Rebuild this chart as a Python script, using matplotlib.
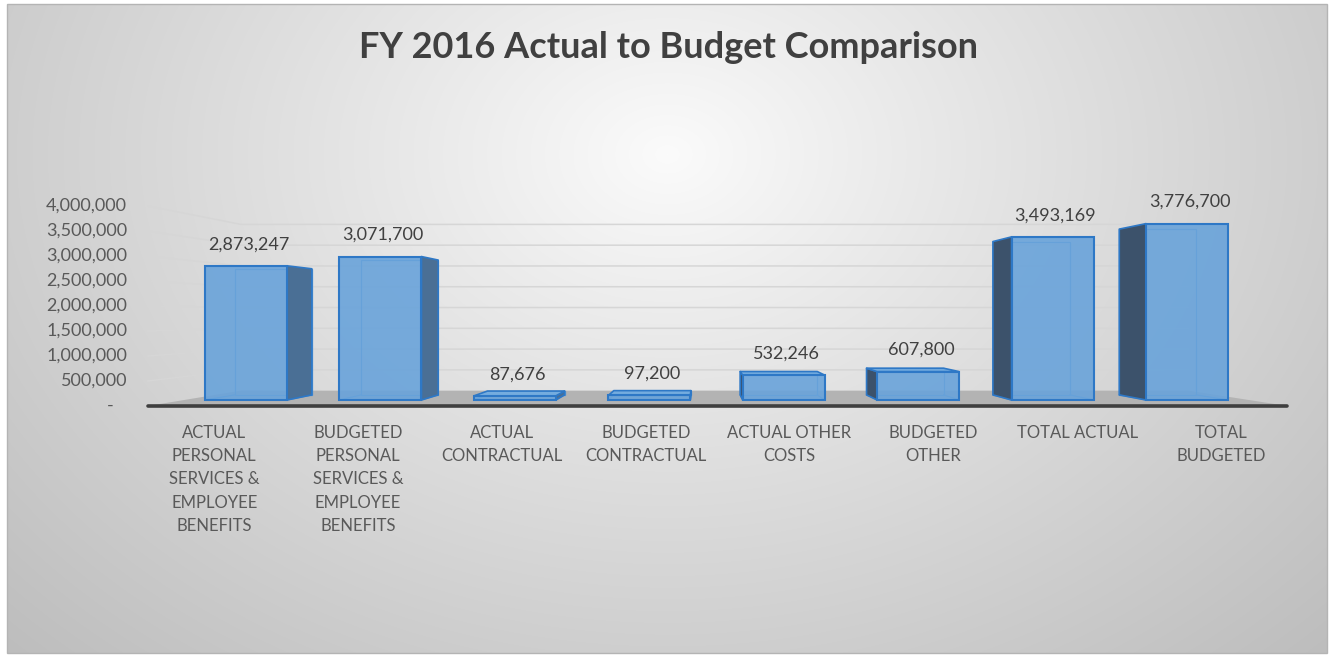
import numpy as np
import matplotlib
matplotlib.use("Agg")
import matplotlib.pyplot as plt
from matplotlib.patches import Polygon, Rectangle

# ---------------- data ----------------
title = "FY 2016 Actual to Budget Comparison"
categories = [
    "ACTUAL\nPERSONAL\nSERVICES &\nEMPLOYEE\nBENEFITS",
    "BUDGETED\nPERSONAL\nSERVICES &\nEMPLOYEE\nBENEFITS",
    "ACTUAL\nCONTRACTUAL",
    "BUDGETED\nCONTRACTUAL",
    "ACTUAL OTHER\nCOSTS",
    "BUDGETED\nOTHER",
    "TOTAL ACTUAL",
    "TOTAL\nBUDGETED",
]
values = [2873247, 3071700, 87676, 97200, 532246, 607800, 3493169, 3776700]
tick_values = [0, 500000, 1000000, 1500000, 2000000, 2500000, 3000000, 3500000, 4000000]
tick_labels = ["-", "500,000", "1,000,000", "1,500,000", "2,000,000",
               "2,500,000", "3,000,000", "3,500,000", "4,000,000"]

# ---------------- layout / style ----------------
W, H = 1331, 657
FONT = "Lato"
X0PIX, DXPIX = 246.0, 134.43      # pixel of first category centre, pixels per category
Y0PIX, DYPIX = 400.0, 46.7        # pixel (from top) of value 0, pixels per million
VPX, VPY = 3.38, 1.82e6           # vanishing point (data units)
S_FF, S_B, S_W = 1.07, 0.94, 0.89  # depth scale: floor front, bar back, back wall
X0W, X1W = -0.46, 7.46             # floor extent (data units)
HW = 0.305                         # half bar width

FRONT = "#69a3da"
EDGE = "#2e78c6"
HIDDEN = "#4f93d6"
SIDE_R = "#4a6f95"
SIDE_L = "#3c526b"
TOP = "#74acdf"
TXT = "#404040"
LBL = "#595959"

fig = plt.figure(figsize=(W / 100, H / 100), dpi=100, facecolor="white")

# background gradient inside frame
fl, ft, fr, fb = 7, 4, 1327, 653
bg = fig.add_axes([fl / W, 1 - fb / H, (fr - fl) / W, (fb - ft) / H])
bg.set_axis_off()
yy, xx = np.mgrid[0:fb - ft, 0:fr - fl]
cx, cy = (fr - fl) / 2, 150
r = np.sqrt(((xx - cx) / cx) ** 2 + ((yy - cy) / (fb - ft - cy)) ** 2) / np.sqrt(2)
val = np.clip(251 - 62 * r ** 0.95, 0, 255) / 255.0
bg.imshow(np.dstack([val, val, val]), aspect="auto", interpolation="bilinear")
fig.add_artist(Rectangle((fl / W, 1 - fb / H), (fr - fl) / W, (fb - ft) / H,
                         transform=fig.transFigure, fill=False,
                         edgecolor="#b4b4b4", lw=1.0))

ax = fig.add_axes([0, 0, 1, 1], facecolor="none")
ax.set_xlim(-X0PIX / DXPIX, (W - X0PIX) / DXPIX)
ax.set_ylim((Y0PIX - H) / DYPIX * 1e6, Y0PIX / DYPIX * 1e6)
ax.set_axis_off()


def P(x, y, s):
    return (VPX + s * (x - VPX), VPY + s * (y - VPY))


# floor
floor = [P(X0W, 0, S_FF), P(X1W, 0, S_FF), P(X1W, 0, S_W), P(X0W, 0, S_W)]
ax.add_patch(Polygon(floor, closed=True, facecolor="#b3b3b3", edgecolor="none", zorder=1))
fx = [P(X0W, 0, S_FF)[0], P(X1W, 0, S_FF)[0]]
fy = [P(X0W, 0, S_FF)[1], P(X1W, 0, S_FF)[1]]
ax.plot(fx, fy, color="#3f3f3f", lw=2.6, solid_capstyle="round", zorder=2)

# gridlines (left wall + back wall) and tick labels
for t, lab in zip(tick_values, tick_labels):
    if t > 0:
        pts = [P(X0W, t, S_FF), P(X0W, t, S_W), P(X1W, t, S_W)]
        ax.plot([p[0] for p in pts], [p[1] for p in pts], color="#d6d6d6", lw=1.1, zorder=1)
    px, py = P(X0W, t, S_FF)
    off = -15 if t > 0 else -25
    ax.annotate(lab, xy=(px, py), xytext=(off, 0), textcoords="offset points",
                ha="right", va="center", fontsize=13, color=LBL, family=FONT)

# bars
xs = np.arange(len(values))
for i, v in zip(xs, values):
    xl, xr = i - HW, i + HW
    back = [P(xl, 0, S_B), P(xr, 0, S_B), P(xr, v, S_B), P(xl, v, S_B)]
    # hidden edges seen through the glassy front face
    ax.add_patch(Polygon(back, closed=True, fill=False, edgecolor=HIDDEN, lw=0.9, zorder=3))
    for cxp in (xl, xr):
        a, b = P(cxp, 0, 1.0), P(cxp, 0, S_B)
        ax.plot([a[0], b[0]], [a[1], b[1]], color=HIDDEN, lw=0.9, zorder=3)
    # side face
    if i < VPX:
        side = [P(xr, 0, 1), P(xr, v, 1), P(xr, v, S_B), P(xr, 0, S_B)]
        sc = SIDE_R
    else:
        side = [P(xl, 0, 1), P(xl, v, 1), P(xl, v, S_B), P(xl, 0, S_B)]
        sc = SIDE_L
    ax.add_patch(Polygon(side, closed=True, facecolor=sc, edgecolor=EDGE, lw=1.2,
                         joinstyle="round", zorder=4))
    # top face
    if v < VPY:
        top = [P(xl, v, 1), P(xr, v, 1), P(xr, v, S_B), P(xl, v, S_B)]
        ax.add_patch(Polygon(top, closed=True, facecolor=TOP, edgecolor=EDGE, lw=1.2,
                             joinstyle="round", zorder=4))

ax.bar(xs, values, width=2 * HW, color=FRONT, alpha=0.9, edgecolor="none", zorder=5)
ax.bar(xs, values, width=2 * HW, fill=False, edgecolor=EDGE, lw=1.5, zorder=6)

# data labels
for i, v in zip(xs, values):
    ax.annotate(f"{v:,}", xy=(i, v), xytext=(2, 15.5), textcoords="offset points",
                ha="center", va="center", fontsize=13, color=TXT, family=FONT, zorder=7)

# category labels
for i, lab in zip(xs, categories):
    px, py = P(i, 0, S_FF)
    ax.annotate(lab, xy=(px, py), xytext=(0, -13.5), textcoords="offset points",
                ha="center", va="top", multialignment="center", linespacing=1.56,
                fontsize=12, color=LBL, family=FONT)

fig.text(668.5 / W, 1 - 48 / H, title, ha="center", va="center", fontsize=26,
         fontweight="bold", color=TXT, family=FONT)

fig.savefig("out.png", dpi=100, facecolor="white")
